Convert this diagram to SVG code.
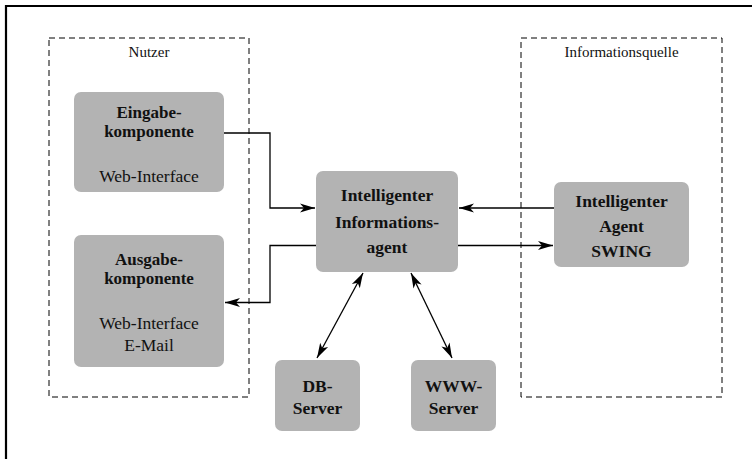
<svg xmlns="http://www.w3.org/2000/svg" width="752" height="459" viewBox="0 0 752 459">
<style>
.frame{fill:none;stroke:#000;stroke-width:2.2}
.grp{fill:none;stroke:#000;stroke-width:1;stroke-dasharray:6,4}
.box{fill:#b3b3b3;stroke:none}
.t{font-family:"Liberation Serif","Times New Roman",serif;fill:#111;text-anchor:middle}
.b{font-weight:bold;font-size:17.5px}
.b2{font-weight:bold;font-size:17px}
.r{font-size:17.5px}
.l{font-size:15px}
.c{fill:none;stroke:#000;stroke-width:1.3}
</style>
<defs>
<marker id="ah" viewBox="-16 -5 17 10" refX="0" refY="0" markerWidth="17" markerHeight="10" markerUnits="userSpaceOnUse" orient="auto-start-reverse">
<path d="M0,0 L-15,-4.5 L-11,0 L-15,4.5 Z" fill="#000"/>
</marker>
</defs>
<rect width="752" height="459" fill="#fff"/>
<path class="frame" d="M6,459 V6 H752"/>
<g id="nutzer">
<rect class="grp" x="49" y="38" width="200" height="359"/>
<text class="t l" x="149" y="57">Nutzer</text>
</g>
<g id="informationsquelle">
<rect class="grp" x="521" y="38" width="201" height="359"/>
<text class="t l" x="621.5" y="57">Informationsquelle</text>
</g>
<g id="eingabe">
<rect class="box" x="74" y="92" width="150" height="100" rx="7"/>
<text class="t b2" x="149" y="117.5">Eingabe-</text>
<text class="t b2" x="149" y="136.5">komponente</text>
<text class="t r" x="149" y="182">Web-Interface</text>
</g>
<g id="ausgabe">
<rect class="box" x="74" y="235" width="150" height="132" rx="7"/>
<text class="t b2" x="149" y="264.5">Ausgabe-</text>
<text class="t b2" x="149" y="283.5">komponente</text>
<text class="t r" x="149" y="329">Web-Interface</text>
<text class="t r" x="149" y="351">E-Mail</text>
</g>
<g id="agent">
<rect class="box" x="316" y="171" width="142" height="101" rx="7"/>
<text class="t b" x="387" y="201">Intelligenter</text>
<text class="t b" x="387" y="228">Informations-</text>
<text class="t b" x="387" y="253">agent</text>
</g>
<g id="swing">
<rect class="box" x="554" y="182" width="135" height="85" rx="7"/>
<text class="t b" x="621.5" y="207">Intelligenter</text>
<text class="t b" x="621.5" y="232">Agent</text>
<text class="t b" x="621.5" y="257">SWING</text>
</g>
<g id="db">
<rect class="box" x="275" y="360" width="85" height="71" rx="7"/>
<text class="t b" x="317.5" y="392">DB-</text>
<text class="t b" x="317.5" y="414">Server</text>
</g>
<g id="www">
<rect class="box" x="411" y="360" width="85" height="71" rx="7"/>
<text class="t b" x="453.5" y="392">WWW-</text>
<text class="t b" x="453.5" y="414">Server</text>
</g>
<g id="connectors">
<path class="c" d="M224,133 H270 V208 H315" marker-end="url(#ah)"/>
<path class="c" d="M316,245.5 H270 V302.5 H225" marker-end="url(#ah)"/>
<path class="c" d="M554,208 H459" marker-end="url(#ah)"/>
<path class="c" d="M458,245.5 H553" marker-end="url(#ah)"/>
<path class="c" d="M363,273 L317,358" marker-start="url(#ah)" marker-end="url(#ah)"/>
<path class="c" d="M411,273 L452,358" marker-start="url(#ah)" marker-end="url(#ah)"/>
</g>
</svg>
